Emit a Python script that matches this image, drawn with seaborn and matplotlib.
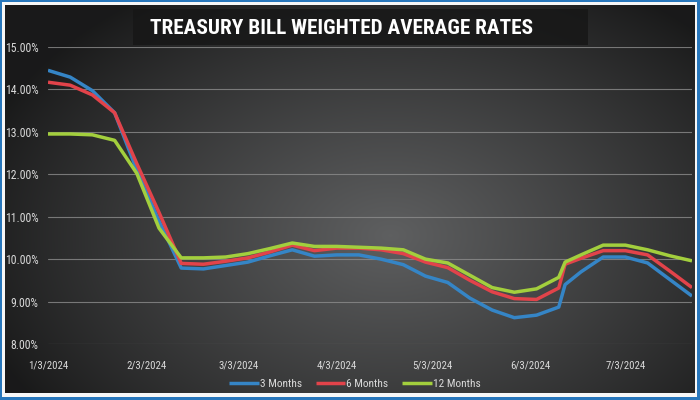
import numpy as np
import pandas as pd
import matplotlib
matplotlib.use("Agg")
import matplotlib.pyplot as plt
import seaborn as sns
from matplotlib.patches import Rectangle
from matplotlib.ticker import FuncFormatter, MultipleLocator
from matplotlib import font_manager

# ---------------- data ----------------
dates = ["2024-01-03", "2024-01-10", "2024-01-17", "2024-01-24", "2024-01-31",
         "2024-02-07", "2024-02-14", "2024-02-21", "2024-02-28", "2024-03-06",
         "2024-03-13", "2024-03-20", "2024-03-27", "2024-04-03", "2024-04-10",
         "2024-04-17", "2024-04-24", "2024-05-01", "2024-05-08", "2024-05-15",
         "2024-05-22", "2024-05-29", "2024-06-05", "2024-06-12", "2024-06-14",
         "2024-06-19", "2024-06-26", "2024-07-03", "2024-07-10", "2024-07-17",
         "2024-07-24"]
three_months = [14.45, 14.29, 13.97, 13.45, 12.10, 10.90, 9.79, 9.77, 9.85, 9.93,
                10.08, 10.22, 10.07, 10.10, 10.10, 10.00, 9.87, 9.60, 9.45, 9.08,
                8.80, 8.62, 8.68, 8.87, 9.40, 9.70, 10.05, 10.05, 9.91, 9.52, 9.13]
six_months = [14.17, 14.10, 13.87, 13.45, 12.25, 11.10, 9.90, 9.88, 9.95, 10.03,
              10.17, 10.33, 10.20, 10.26, 10.26, 10.22, 10.13, 9.93, 9.80, 9.50,
              9.23, 9.07, 9.05, 9.32, 9.88, 10.02, 10.20, 10.20, 10.10, 9.72, 9.33]
twelve_months = [12.95, 12.95, 12.93, 12.80, 12.02, 10.73, 10.03, 10.03, 10.05, 10.13,
                 10.25, 10.38, 10.30, 10.30, 10.28, 10.26, 10.22, 10.00, 9.91, 9.62,
                 9.33, 9.22, 9.30, 9.57, 9.93, 10.10, 10.33, 10.33, 10.22, 10.08, 9.96]
series_names = ["3 Months", "6 Months", "12 Months"]
x_tick_dates = ["2024-01-03", "2024-02-03", "2024-03-03", "2024-04-03",
                "2024-05-03", "2024-06-03", "2024-07-03"]
x_tick_labels = ["1/3/2024", "2/3/2024", "3/3/2024", "4/3/2024",
                 "5/3/2024", "6/3/2024", "7/3/2024"]
title_text = "TREASURY BILL WEIGHTED AVERAGE RATES"

df = pd.DataFrame({
    "date": pd.to_datetime(dates * 3),
    "rate": three_months + six_months + twelve_months,
    "series": [series_names[0]] * len(dates) + [series_names[1]] * len(dates)
              + [series_names[2]] * len(dates),
})

# ---------------- style ----------------
sns.set_theme(style="dark")
names = {f.name for f in font_manager.fontManager.ttflist}
family = "DejaVu Sans"
for cand in ["Liberation Sans Narrow", "DejaVu Sans Condensed", "Roboto Condensed",
             "Open Sans Condensed", "Liberation Sans", "Roboto"]:
    if cand in names:
        family = cand
        break
plt.rcParams["font.family"] = [family, "DejaVu Sans"]

W, H = 700, 400
fig = plt.figure(figsize=(7, 4), dpi=100)
renderer = fig.canvas.get_renderer()


def fit_size(text, target_px, weight="normal", base=10.0):
    t = fig.text(0, 0, text, fontsize=base, fontweight=weight)
    w = t.get_window_extent(renderer=renderer).width
    t.remove()
    return base * target_px / w


# background gradient with border
yy, xx = np.mgrid[0:H, 0:W]
d = np.sqrt(((xx - 390) / 430.0) ** 2 + ((yy - 235) / 290.0) ** 2)
lvl = np.clip(1 - d, 0, 1)
gray = 0.10 + 0.27 * lvl ** 0.9
img = np.dstack([gray, gray * 1.01, gray * 1.02])
img = np.clip(img, 0, 1)
white = (xx < 5) | (xx >= 695) | (yy < 5) | (yy >= 393)
img[white] = [0.97, 0.97, 0.97]
blue = (xx < 2) | (xx >= 697) | (yy < 2) | (yy >= 397)
img[blue] = [0.16, 0.47, 0.74]
bg = fig.add_axes([0, 0, 1, 1], zorder=0)
bg.imshow(img, extent=[0, 1, 0, 1], aspect="auto", interpolation="bilinear")
bg.axis("off")

# title box
fig.patches.append(Rectangle((133 / W, 1 - 45 / H), (588 - 133) / W, 36 / H,
                             transform=fig.transFigure, facecolor="#171717",
                             alpha=0.85, edgecolor="none", zorder=1))
title_size = fit_size(title_text, 381, weight="bold")
fig.text(341 / W, 1 - 28 / H, title_text, ha="center", va="center",
         color="white", fontsize=title_size, fontweight="bold", zorder=3)

ytick_size = min(8.5, fit_size("15.00%", 35))
xtick_size = min(9.0, fit_size("1/3/2024", 40))
leg_size = min(9.0, fit_size("3 Months", 42))

# main axes
ax = fig.add_axes([48 / W, 1 - 344 / H, (692 - 48) / W, (344 - 47) / H], zorder=2)
ax.set_facecolor("none")
palette = {"3 Months": "#3585c6", "6 Months": "#e2434a", "12 Months": "#a3cf3d"}
sns.lineplot(data=df, x="date", y="rate", hue="series", palette=palette,
             hue_order=series_names, linewidth=2.5, ax=ax, legend=True,
             solid_joinstyle="round", solid_capstyle="butt")

ax.set_ylim(8, 15)
ax.set_xlim(pd.Timestamp(dates[0]), pd.Timestamp(dates[-1]))
ax.yaxis.set_major_locator(MultipleLocator(1))
ax.yaxis.set_major_formatter(FuncFormatter(lambda v, p: f"{v:.2f}%"))
ax.set_xticks(pd.to_datetime(x_tick_dates))
ax.set_xticklabels(x_tick_labels)
ax.grid(axis="y", color="#8c8c8c", linewidth=0.8, alpha=0.8)
ax.grid(axis="x", visible=False)
for s in ax.spines.values():
    s.set_visible(False)
ax.tick_params(axis="y", colors="#d9d9d9", labelsize=ytick_size, length=0, pad=7)
ax.tick_params(axis="x", colors="#d9d9d9", labelsize=xtick_size, length=0, pad=12)
ax.set_xlabel("")
ax.set_ylabel("")

handles, labels = ax.get_legend_handles_labels()
ax.get_legend().remove()
for h in handles:
    h.set_linewidth(2.5)
leg = fig.legend(handles, labels, loc="center", bbox_to_anchor=(355 / W, 1 - 384 / H),
                 ncol=3, frameon=False, fontsize=leg_size, handlelength=2.6,
                 handletextpad=0.1, columnspacing=1.2)
for t in leg.get_texts():
    t.set_color("#d9d9d9")

fig.savefig("out.png", dpi=100)
